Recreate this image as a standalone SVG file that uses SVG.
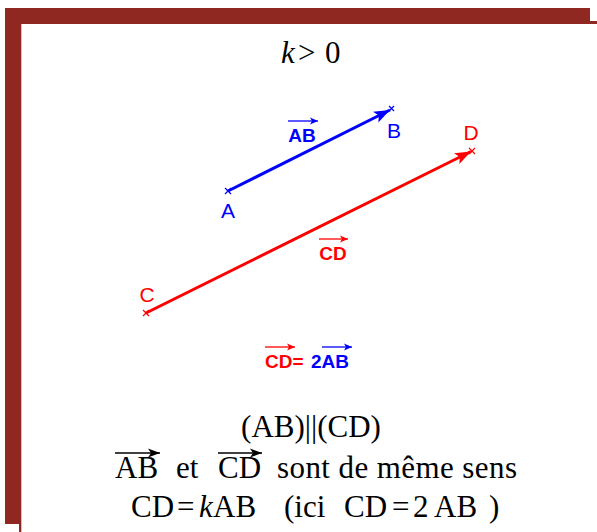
<svg xmlns="http://www.w3.org/2000/svg" width="597" height="532" viewBox="0 0 597 532">
<style>
.frame{fill:#8e2820}
.pt{font-family:"Liberation Sans",Arial,sans-serif;font-size:21px}
.lbl{font-family:"Liberation Sans",Arial,sans-serif;font-size:19px;font-weight:bold}
.math{font-family:"Liberation Serif","Times New Roman",serif;font-size:31px;fill:#000}
.blue{fill:#0000ff}
.red{fill:#ff0000}
.vb{stroke:#0000ff;stroke-width:3;fill:none}
.vr{stroke:#ff0000;stroke-width:3;fill:none}
.ob{stroke-width:1.3;fill:none}
</style>
<defs>
<marker id="hb" markerUnits="userSpaceOnUse" markerWidth="20" markerHeight="14" refX="17" refY="7" orient="auto" viewBox="0 0 20 14"><path d="M17,7 L1,1 L4.5,7 L1,13 Z" fill="#0000ff"/></marker>
<marker id="hr" markerUnits="userSpaceOnUse" markerWidth="20" markerHeight="14" refX="17" refY="7" orient="auto" viewBox="0 0 20 14"><path d="M17,7 L1,1 L4.5,7 L1,13 Z" fill="#ff0000"/></marker>
<marker id="sb" markerUnits="userSpaceOnUse" markerWidth="10" markerHeight="8" refX="8" refY="4" orient="auto" viewBox="0 0 10 8"><path d="M8,4 L0,0.5 L2,4 L0,7.5 Z" fill="#0000ff"/></marker>
<marker id="sr" markerUnits="userSpaceOnUse" markerWidth="10" markerHeight="8" refX="8" refY="4" orient="auto" viewBox="0 0 10 8"><path d="M8,4 L0,0.5 L2,4 L0,7.5 Z" fill="#ff0000"/></marker>
<marker id="sk" markerUnits="userSpaceOnUse" markerWidth="14" markerHeight="10" refX="12" refY="5" orient="auto" viewBox="0 0 14 10"><path d="M12,5 L0,0.5 L3,5 L0,9.5 Z" fill="#000"/></marker>
</defs>
<g id="frame">
<rect class="frame" x="5" y="8" width="585" height="14"/>
<rect class="frame" x="5" y="8" width="16" height="516"/>
<rect class="frame" x="21" y="21" width="576" height="3"/>
<rect class="frame" x="19" y="524" width="2" height="8"/>
<rect x="21" y="24" width="1" height="508" fill="#e3b7b2"/>
</g>
<g id="title"><text class="math" y="63"><tspan x="281" font-style="italic">k</tspan><tspan x="298">&gt;</tspan><tspan x="325">0</tspan></text></g>
<g id="connectors">
<line class="vb" x1="228" y1="191" x2="390" y2="110" marker-end="url(#hb)"/>
<line class="vr" x1="146" y1="313" x2="471" y2="151.5" marker-end="url(#hr)"/>
</g>
<g id="A"><path d="M225,188 l6,6 M231,188 l-6,6" stroke="#0000ff" stroke-width="1.2"/><text class="pt blue" x="228" y="218" text-anchor="middle">A</text></g>
<g id="B"><path d="M389,106 l5,5 M394,106 l-5,5" stroke="#0000ff" stroke-width="1.2"/><text class="pt blue" x="394" y="138" text-anchor="middle">B</text></g>
<g id="C"><path d="M143,310 l6,6 M149,310 l-6,6" stroke="#ff0000" stroke-width="1.2"/><text class="pt red" x="147" y="302" text-anchor="middle">C</text></g>
<g id="D"><path d="M469,148 l6,6 M475,148 l-6,6" stroke="#ff0000" stroke-width="1.2"/><text class="pt red" x="471" y="140" text-anchor="middle">D</text></g>
<g id="labelAB"><line class="ob" x1="288" y1="121" x2="318" y2="121" stroke="#0000ff" marker-end="url(#sb)"/><text class="lbl blue" x="302" y="142" text-anchor="middle">AB</text></g>
<g id="labelCD"><line class="ob" x1="319" y1="239" x2="348" y2="239" stroke="#ff0000" marker-end="url(#sr)"/><text class="lbl red" x="333" y="260" text-anchor="middle">CD</text></g>
<g id="relation">
<line class="ob" x1="265" y1="347" x2="295" y2="347" stroke="#ff0000" marker-end="url(#sr)"/>
<line class="ob" x1="322" y1="347" x2="352" y2="347" stroke="#0000ff" marker-end="url(#sb)"/>
<text class="lbl" y="368"><tspan x="265" class="red">CD=</tspan><tspan x="311" class="blue">2AB</tspan></text>
</g>
<g id="conclusion">
<text class="math" x="311" y="437" text-anchor="middle">(AB)||(CD)</text>
<line class="ob" x1="115" y1="453" x2="160" y2="453" stroke="#000" marker-end="url(#sk)"/>
<line class="ob" x1="218" y1="453" x2="262" y2="453" stroke="#000" marker-end="url(#sk)"/>
<text class="math" x="115" y="478">AB</text>
<text class="math" x="176" y="478">et</text>
<text class="math" x="218" y="478">CD</text>
<text class="math" x="277" y="478" textLength="240">sont de même sens</text>
<text class="math" y="517"><tspan x="131">CD</tspan><tspan x="177">=</tspan><tspan x="199" font-style="italic">k</tspan><tspan x="213">AB</tspan><tspan x="284">(ici</tspan><tspan x="344">CD</tspan><tspan x="392">=</tspan><tspan x="413">2</tspan><tspan x="434">AB</tspan><tspan x="489">)</tspan></text>
</g>
</svg>
